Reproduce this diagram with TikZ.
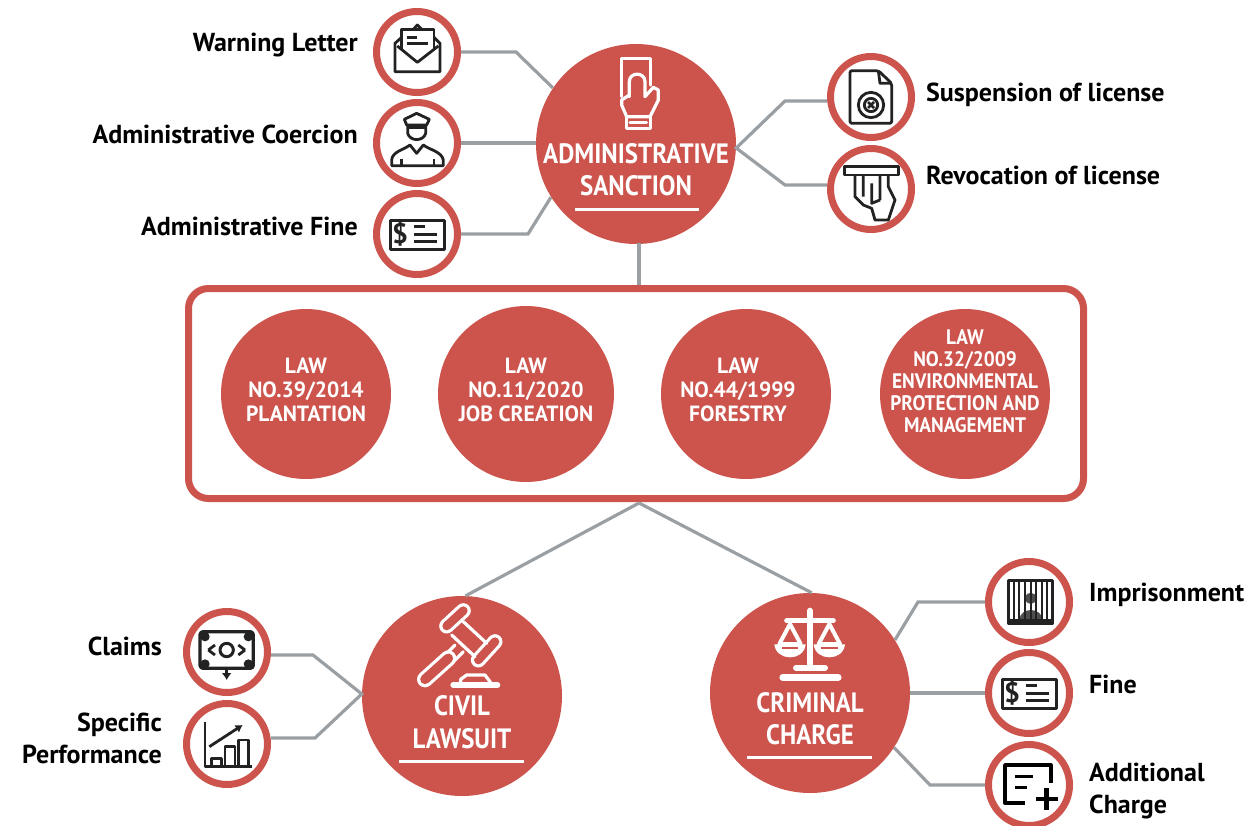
\documentclass[tikz,border=0pt]{standalone}
\usepackage{fontspec}
\setmainfont{PT Sans}
\newfontfamily\tfont[FakeStretch=0.89]{PT Sans}
\newfontfamily\lfont[FakeStretch=0.98]{PT Sans}
\newfontfamily\mfont[FakeStretch=0.92]{PT Sans}
\usetikzlibrary{arrows.meta}
\definecolor{sred}{HTML}{CC544C}
\definecolor{sgrey}{HTML}{9A9FA3}
\definecolor{ink}{HTML}{222222}
\newcommand{\fsz}[2]{\fontsize{#1}{#2}\selectfont}
\newcommand{\checkicon}{%
  \draw[iconline,line width=3pt] (-27,-14) rectangle (27,15);
  \node[ink,inner sep=0pt,font=\bfseries\fsz{28}{28}] (dollar) at (-17,0) {\$};
  \draw[iconline,line width=3pt] (-3,-8)--(8,-8) (-3,0)--(20,0) (-3,7)--(20,7);
}
\tikzset{
  x=1pt,y=-1pt,
  ring/.style={circle,draw=sred,line width=7pt,fill=white,minimum size=81pt,inner sep=0pt},
  bigc/.style={circle,fill=sred,minimum size=200pt,inner sep=0pt},
  lawc/.style={circle,fill=sred,inner sep=0pt},
  lawt/.style={text=white,inner sep=0pt,align=center,font=\lfont\bfseries\fsz{22}{24}},
  wire/.style={draw=sgrey,line width=3.2pt,line join=miter},
  title/.style={text=white,inner sep=0pt,font=\tfont\bfseries\fsz{28}{32}},
  lab/.style={text=black,inner sep=0pt,font=\bfseries\fsz{26}{32}},
  uline/.style={draw=white,line width=3pt},
  iconline/.style={draw=ink,line width=2.8pt,line join=round},
  whiteline/.style={draw=white,line width=3.2pt,line join=round,line cap=round},
  zoomA/.style={shift={(360,0)},x=.33333pt,y=-.33333pt},
  zoomB/.style={shift={(800,40)},x=.33333pt,y=-.33333pt},
  zoomC/.style={shift={(170,590)},x=.33333pt,y=-.33333pt},
  zoomD/.style={shift={(740,550)},x=.33333pt,y=-.33333pt},
}
\begin{document}
\begin{tikzpicture}[x=1pt,y=-1pt]
\useasboundingbox (0,0) rectangle (1249,825);
% hubs
\node[bigc] (adm) at (636,144) {};
\node[bigc] (civ) at (462,696) {};
\node[bigc] (cri) at (810,693) {};
% rings
\node[ring] (w) at (417,52) {};
\node[ring] (o) at (417,143) {};
\node[ring] (af) at (417,234) {};
\node[ring] (su) at (871,97) {};
\node[ring] (re) at (871,189) {};
\node[ring] (cl) at (227,652) {};
\node[ring] (sp) at (227,744) {};
\node[ring] (im) at (1029,602) {};
\node[ring] (fi) at (1029,693) {};
\node[ring] (ad) at (1029,785) {};
% law box
\node[draw=sred,line width=7pt,rounded corners=20pt,minimum width=895pt,minimum height=210pt,inner sep=0pt] (box) at (636,393.5) {};
\node[lawc,minimum size=170pt] (l1) at (306,394) {};
\node[lawc,minimum size=176pt] (l2) at (526,394) {};
\node[lawc,minimum size=170pt] (l3) at (746,394) {};
\node[lawc,minimum size=170pt] (l4) at (965,394) {};
\node[lawt] (lt1) at (306,390) {LAW\\NO.39/2014\\PLANTATION};
\node[lawt] (lt2) at (526,390) {LAW\\NO.11/2020\\JOB CREATION};
\node[lawt] (lt3) at (738,390) {LAW\\NO.44/1999\\FORESTRY};
\node[lawt,font=\mfont\bfseries\fsz{21}{22}] (lt4) at (965,381) {LAW\\NO.32/2009\\ENVIRONMENTAL\\PROTECTION AND\\MANAGEMENT};
% connectors
\coordinate (apex) at (639,503);
\coordinate (vtop) at (639,243);
\path[wire] (w.east) -- (516,52) -- (adm.146);
\path[wire] (o.east) -- (adm.west |- o.east);
\path[wire] (af.east) -- (528,234) -- (adm.-148);
\path[wire] (su.west |- 0,101) -- (785,101) -- (adm.east |- 0,148) -- (785,185) -- (re.west |- 0,185);
\path[wire] (vtop) -- (vtop |- box.north);
\path[wire] (apex) -- (civ.88);
\path[wire] (apex) -- (cri.89);
\path[wire] (cl.east |- 0,655) -- (313,655) -- (civ.west |- 0,694) -- (315,738) -- (sp.east |- 0,738);
\path[wire] (cri.32) -- (918,602) -- (im.west);
\path[wire] (cri.east) -- (fi.west);
\path[wire] (cri.-33) -- (930,785) -- (ad.west);
% hub text
\node[title] (t1) at (636,154) {ADMINISTRATIVE};
\node[title] (t2) at (636,186) {SANCTION};
\draw[uline] (575,209) -- (699,209);
\node[title] (t3) at (462,706) {CIVIL};
\node[title] (t4) at (462,739) {LAWSUIT};
\draw[uline] (399,761) -- (524,761);
\node[title] (t5) at (810,703) {CRIMINAL};
\node[title] (t6) at (810,735) {CHARGE};
\draw[uline] (747,757) -- (872,757);
% labels
\node[lab,anchor=east] (a) at (358,45) {Warning Letter};
\node[lab,anchor=east] (b) at (358,134) {Administrative Coercion};
\node[lab,anchor=east] (c) at (358,226) {Administrative Fine};
\node[lab,anchor=west] (d) at (926,95) {Suspension of license};
\node[lab,anchor=west] (e) at (926,175) {Revocation of license};
\node[lab,anchor=east] (f) at (162,646) {Claims};
\node[lab,anchor=east,align=right] (g) at (162,738) {Specific\\Performance};
\node[lab,anchor=west] (h) at (1089,595) {Imprisonment};
\node[lab,anchor=west] (i) at (1089,684) {Fine};
\node[lab,anchor=west,align=left] (j) at (1089,791) {Additional\\Charge};
% envelope
\begin{scope}[zoomA]
\draw[iconline] (125,112)--(105,130)--(105,215)--(240,215)--(240,130)--(222,112);
\draw[iconline] (112,138)--(172,187)--(235,138);
\draw[iconline] (125,150)--(125,88)--(222,88)--(222,150);
\draw[iconline] (160,88)--(172,75)--(185,88);
\draw[iconline] (140,112)--(170,112) (140,130)--(205,130);
% officer
\draw[iconline] (133,358)--(170,340)--(208,358)--(200,375)--(140,375)--cycle;
\draw[iconline,line width=4pt] (143,380)--(197,380);
\draw[iconline] (143,378)--(143,400) .. controls (150,425) and (190,425) .. (197,400)--(197,378);
\draw[iconline] (95,497)--(95,480) .. controls (97,455) and (130,450) .. (150,435)--(170,460)--(190,435) .. controls (210,450) and (245,455) .. (250,480)--(250,497)--cycle;
\draw[iconline] (125,497)--(125,478) (222,497)--(222,478);
% hand with card
\draw[whiteline] (785,290)--(785,175)--(872,175)--(872,255);
\draw[whiteline] (808,290)--(808,245) .. controls (808,215) and (855,215) .. (855,245)--(855,290)--(880,262)--(895,270)--(895,300)--(870,350)--(800,350)--(785,315)--(785,300)--(808,285);
\draw[whiteline] (800,350)--(800,385)--(872,385)--(872,350);
\draw[whiteline] (810,368)--(860,368);
\end{scope}
\begin{scope}[shift={(417,234)}]\checkicon\end{scope}
\begin{scope}[shift={(1029,693)}]\checkicon\end{scope}
% file and atm
\begin{scope}[zoomB]
\draw[iconline,rounded corners=2pt] (150,92)--(235,92)--(275,130)--(275,250)--(150,250)--cycle;
\draw[iconline] (235,92)--(240,130)--(275,130);
\draw[iconline] (213,195) circle [radius=38];
\draw[iconline] (213,195) circle [radius=20];
\draw[iconline] (204,186)--(222,204) (222,186)--(204,204);
\draw[iconline] (133,380) rectangle (295,405);
\draw[iconline] (165,405)--(165,470)--(190,495)--(215,505)--(225,540)--(265,540)--(285,480)--(265,440)--(265,405);
\draw[iconline] (190,405)--(190,470) (240,405)--(240,480) (215,430)--(215,490)--(240,480);
\end{scope}
% claims, chart, gavel
\begin{scope}[zoomC]
\draw[iconline,rounded corners=3pt,line width=3.2pt] (90,125) rectangle (250,235);
\draw[iconline,line width=3pt] (170,180) circle [radius=20];
\draw[iconline] (115,180)--(135,165) (115,180)--(135,195) (225,180)--(205,165) (225,180)--(205,195);
\fill[ink] (105,140) circle [radius=14] (235,140) circle [radius=14] (105,222) circle [radius=14] (235,222) circle [radius=14];
\draw[iconline,-{Latex[length=7pt,width=10pt]}] (170,235)--(170,270);
\draw[iconline] (105,395)--(105,530)--(245,530);
\draw[iconline] (125,530)--(125,505)--(155,505)--(155,530) (165,530)--(165,470)--(195,470)--(195,530) (205,530)--(205,450)--(235,450)--(235,530);
\draw[iconline,-{Latex[length=7pt,width=9pt]}] (118,470)--(218,405);
% gavel
\draw[white,line width=15pt,line cap=round] (830,108)--(880,62);
\draw[sred,line width=8.6pt,line cap=round] (830,108)--(880,62);
\draw[white,line width=15pt,line cap=round] (925,210)--(975,155);
\draw[sred,line width=8.6pt,line cap=round] (925,210)--(975,155);
\draw[whiteline] (880,95)--(950,160) (845,135)--(915,200);
\draw[whiteline] (855,165)--(825,195) (880,185)--(850,215);
\draw[white,line width=16pt,line cap=round] (835,205)--(765,268);
\draw[sred,line width=9.6pt,line cap=round] (835,205)--(765,268);
\draw[white,line width=6pt,line cap=round] (850,285)--(982,285);
\draw[whiteline] (872,282)--(872,268)--(890,255)--(945,255)--(965,282);
\end{scope}
% jail, form, scales
\begin{scope}[zoomD]
\draw[iconline] (805,92) rectangle (938,222);
\fill[ink!80] (872,145) circle [radius=17];
\fill[ink!80] (838,210) .. controls (840,170) and (905,170) .. (908,210) -- cycle;
\draw[iconline,line width=2pt] (822,92)--(822,210) (838,92)--(838,210) (855,92)--(855,210) (872,92)--(872,210) (888,92)--(888,210) (905,92)--(905,210) (922,92)--(922,210);
\fill[ink] (805,208) rectangle (938,222);
\draw[iconline,draw=black,line width=3.8pt,line cap=butt] (932,698)--(932,645)--(795,645)--(795,760)--(855,760);
\draw[iconline,draw=black,line width=3.6pt] (825,680)--(880,680) (825,712)--(860,712);
\draw[iconline,draw=black,line width=4.4pt] (920,715)--(920,780) (888,747)--(955,747);
% scales
\draw[white,line width=6pt,line cap=round] (210,182)--(210,350);
\draw[white,line width=5pt,line cap=round] (140,212)--(280,212);
\draw[white,line width=6pt,line cap=round] (168,353)--(255,353);
\draw[white,line width=6.5pt,line cap=round] (128,382)--(295,382);
\draw[whiteline,line width=4pt,fill=sred] (150,222)--(118,282)--(182,282)--cycle;
\draw[whiteline,line width=4pt,fill=sred] (268,222)--(236,282)--(300,282)--cycle;
\fill[white] (103,283) .. controls (108,335) and (192,335) .. (197,283) -- cycle;
\fill[white] (221,283) .. controls (226,335) and (310,335) .. (315,283) -- cycle;
\draw[sred,line width=1.8pt] (125,295)--(175,295) (243,295)--(293,295);
\end{scope}
\end{tikzpicture}
\end{document}
